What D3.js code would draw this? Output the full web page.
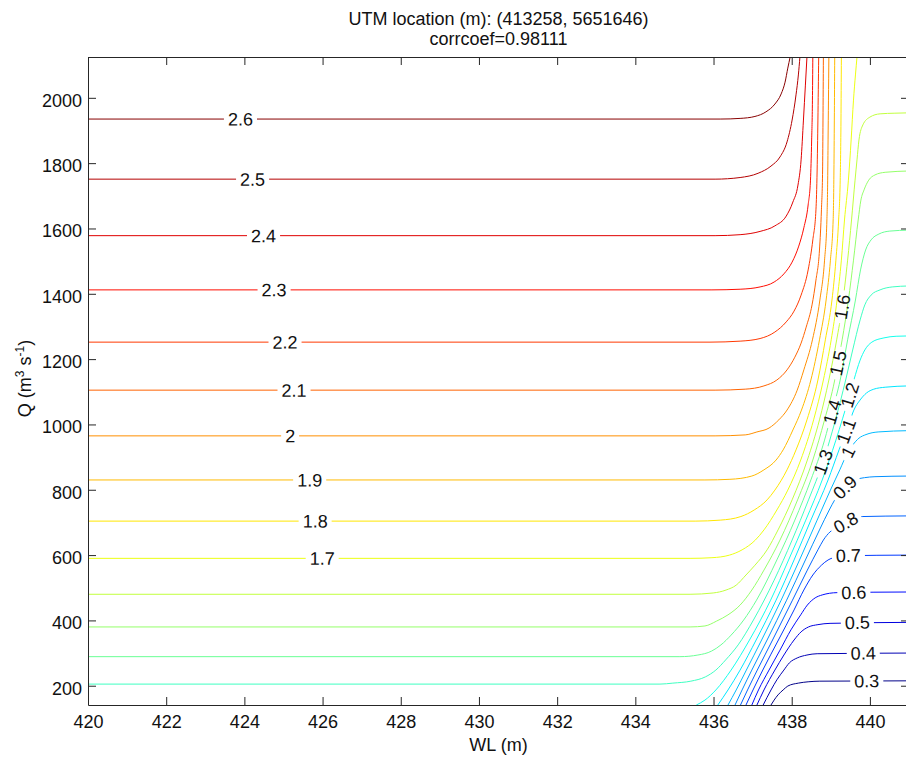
<!DOCTYPE html>
<html>
<head>
<meta charset="utf-8">
<script src="https://cdn.jsdelivr.net/npm/d3@7"></script>
<style>
  body { margin: 0; background: #fff; }
  svg { display: block; }
  text { font-family: "Liberation Sans", Arial, Helvetica, sans-serif; fill: #111; }
  .axis text { font-size: 18px; font-family: "Liberation Sans", Arial, sans-serif; }
  .axis { color: #262626; }
  .clabel { font-size: 18px; }
</style>
</head>
<body>
<svg id="chart"></svg>
<script>
// axis ranges and ticks (WL in m, Q in m3/s)
var wlRange = [420, 441];
var qRange = [141, 2125];
var xTicks = [420, 422, 424, 426, 428, 430, 432, 434, 436, 438, 440];
var yTicks = [200, 400, 600, 800, 1000, 1200, 1400, 1600, 1800, 2000];

// contour lines, one per level, as [WL, Q]
var c03 = [[437.47,141],[437.55,156],[437.65,172],[437.78,187],[437.90,199],[438.17,208],[438.42,212],[438.72,214],[441.00,215]];
var c04 = [[437.27,141],[437.47,187],[437.62,218],[437.80,248],[437.94,270],[438.14,285],[438.39,294],[438.65,298],[441.00,300]];
var c05 = [[437.11,141],[437.29,187],[437.57,248],[437.80,294],[438.06,340],[438.24,365],[438.43,380],[438.67,387],[438.98,391],[441.00,394]];
var c06 = [[436.98,141],[437.15,187],[437.42,248],[437.70,309],[437.98,371],[438.23,417],[438.40,447],[438.60,469],[438.78,478],[439.16,485],[441.00,487]];
var c07 = [[436.83,141],[437.01,187],[437.26,248],[437.66,340],[438.06,432],[438.31,493],[438.54,539],[438.76,569],[438.93,585],[439.13,594],[439.36,598],[441.00,600]];
var c08 = [[436.69,141],[436.87,187],[437.12,248],[437.51,340],[438.02,462],[438.40,554],[438.67,616],[438.81,646],[438.98,671],[439.18,686],[439.38,700],[439.59,712],[439.82,718],[441.00,720]];
var c09 = [[436.55,141],[436.73,187],[436.98,248],[437.37,340],[437.87,462],[438.35,585],[438.71,677],[438.96,738],[439.10,769],[439.28,799],[439.43,818],[439.61,830],[439.86,837],[440.13,840],[441.00,842]];
var c10 = [[436.37,141],[436.58,187],[436.84,248],[437.23,340],[437.73,462],[438.20,585],[438.65,707],[438.99,799],[439.23,861],[439.44,916],[439.56,937],[439.72,958],[439.90,969],[440.21,977],[441.00,981]];
var c11 = [[436.11,141],[436.37,187],[436.68,248],[437.09,340],[437.60,462],[438.06,585],[438.49,707],[438.93,830],[439.21,922],[439.47,1004],[439.59,1044],[439.75,1075],[439.91,1096],[440.10,1108],[440.39,1114],[441.00,1118]];
var c12 = [[435.56,141],[435.78,156],[436.06,187],[436.45,248],[436.92,340],[437.46,462],[437.92,585],[438.36,707],[438.78,830],[439.13,952],[439.48,1090],[439.59,1136],[439.75,1197],[439.87,1228],[440.05,1252],[440.36,1265],[440.67,1270],[441.00,1271]];
var c13 = [[420,205],[434.63,205],[434.96,208],[435.42,214],[435.79,227],[436.06,248],[436.31,279],[436.63,325],[437.02,401],[437.55,523],[438.01,646],[438.43,769],[438.80,885],[439.12,1014],[439.38,1136],[439.56,1228],[439.75,1320],[439.87,1366],[440.03,1396],[440.26,1412],[440.57,1421],[441.00,1424]];
var c14 = [[420,289],[435.14,289],[435.60,294],[435.95,306],[436.19,325],[436.45,355],[436.77,401],[437.10,462],[437.62,585],[438.08,707],[438.49,830],[438.84,952],[439.03,1038],[439.24,1136],[439.43,1259],[439.63,1381],[439.76,1473],[439.89,1534],[440.03,1565],[440.23,1583],[440.51,1592],[441.00,1595]];
var c15 = [[420,380],[435.40,380],[435.78,383],[436.08,398],[436.37,417],[436.68,447],[436.98,493],[437.29,554],[437.70,646],[438.15,769],[438.54,891],[438.84,1014],[439.10,1136],[439.18,1188],[439.29,1259],[439.45,1381],[439.58,1503],[439.70,1626],[439.77,1687],[439.85,1718],[439.97,1748],[440.13,1764],[440.39,1772],[441.00,1776]];
var c16 = [[420,480],[435.40,480],[435.99,484],[436.32,493],[436.58,508],[436.83,539],[437.06,569],[437.37,616],[437.65,677],[438.01,769],[438.40,891],[438.71,1014],[438.95,1136],[439.15,1259],[439.29,1360],[439.43,1503],[439.53,1626],[439.62,1748],[439.67,1810],[439.72,1871],[439.82,1917],[440.00,1941],[440.26,1951],[440.64,1953],[441.00,1954]];
var c17 = [[420,590],[435.40,590],[435.96,592],[436.41,600],[436.73,616],[437.07,646],[437.29,677],[437.62,738],[437.90,799],[438.23,891],[438.56,1014],[438.81,1136],[439.01,1259],[439.16,1381],[439.27,1503],[439.35,1626],[439.45,1748],[439.52,1871],[439.58,1993],[439.63,2070],[439.67,2125]];
var c18 = [[420,704],[435.53,704],[436.17,707],[436.70,718],[437.04,738],[437.37,769],[437.57,799],[437.88,861],[438.11,922],[438.39,1014],[438.67,1136],[438.86,1259],[439.03,1381],[439.13,1503],[439.20,1626],[439.24,1748],[439.26,1932],[439.27,2125]];
var c19 = [[420,830],[435.78,830],[436.42,832],[436.98,842],[437.29,861],[437.60,891],[437.78,922],[438.03,983],[438.25,1044],[438.49,1136],[438.71,1259],[438.88,1381],[438.99,1503],[439.06,1626],[439.08,1779],[439.09,1932],[439.10,2125]];
var c20 = [[420,965],[436.04,965],[436.81,968],[437.11,977],[437.42,989],[437.67,1014],[437.88,1044],[438.14,1105],[438.31,1167],[438.53,1259],[438.72,1381],[438.84,1503],[438.90,1626],[438.92,1748],[438.93,1871],[438.94,1993],[438.95,2125]];
var c21 = [[420,1105],[436.04,1105],[436.81,1108],[437.29,1118],[437.62,1136],[437.88,1167],[438.08,1206],[438.24,1249],[438.37,1298],[438.52,1366],[438.62,1442],[438.71,1534],[438.76,1657],[438.79,1779],[438.80,1932],[438.81,2125]];
var c22 = [[420,1252],[435.91,1252],[436.68,1255],[437.19,1263],[437.57,1283],[437.86,1314],[438.06,1347],[438.24,1396],[438.42,1473],[438.54,1565],[438.62,1657],[438.65,1779],[438.67,1932],[438.69,2125]];
var c23 = [[420,1412],[435.96,1412],[436.68,1414],[437.19,1421],[437.55,1436],[437.80,1461],[438.01,1497],[438.18,1546],[438.31,1602],[438.42,1672],[438.48,1748],[438.51,1871],[438.53,1993],[438.54,2125]];
var c24 = [[420,1578],[436.04,1578],[436.68,1581],[437.19,1591],[437.57,1608],[437.86,1638],[438.03,1681],[438.16,1733],[438.24,1810],[438.30,1932],[438.35,2039],[438.39,2125]];
var c25 = [[420,1751],[436.04,1751],[436.68,1756],[437.14,1769],[437.47,1791],[437.70,1819],[437.88,1865],[438.01,1932],[438.11,2009],[438.17,2070],[438.21,2125]];
var c26 = [[420,1935],[436.17,1935],[436.68,1937],[437.06,1943],[437.34,1957],[437.57,1981],[437.73,2012],[437.83,2048],[437.90,2091],[437.96,2125]];

// where the inline labels sit: [level, WL, Q]
var labelSpots = [
  [2.6, 423.90, 1935], [2.5, 424.21, 1751], [2.4, 424.49, 1578], [2.3, 424.76, 1412],
  [2.2, 425.04, 1252], [2.1, 425.27, 1105], [2.0, 425.17, 965], [1.9, 425.67, 830],
  [1.8, 425.81, 704], [1.7, 425.99, 590],
  [1.6, 439.29, 1360], [1.5, 439.18, 1188], [1.4, 439.03, 1038], [1.3, 438.80, 885],
  [1.2, 439.48, 1090], [1.1, 439.39, 980], [1.0, 439.44, 916], [0.9, 439.36, 808],
  [0.8, 439.38, 700], [0.7, 439.45, 599], [0.6, 439.59, 486], [0.5, 439.68, 394],
  [0.4, 439.83, 300], [0.3, 439.92, 215]
];

var contours = [
  {level: 0.3, pts: c03}, {level: 0.4, pts: c04}, {level: 0.5, pts: c05}, {level: 0.6, pts: c06},
  {level: 0.7, pts: c07}, {level: 0.8, pts: c08}, {level: 0.9, pts: c09}, {level: 1.0, pts: c10},
  {level: 1.1, pts: c11}, {level: 1.2, pts: c12}, {level: 1.3, pts: c13}, {level: 1.4, pts: c14},
  {level: 1.5, pts: c15}, {level: 1.6, pts: c16}, {level: 1.7, pts: c17}, {level: 1.8, pts: c18},
  {level: 1.9, pts: c19}, {level: 2.0, pts: c20}, {level: 2.1, pts: c21}, {level: 2.2, pts: c22},
  {level: 2.3, pts: c23}, {level: 2.4, pts: c24}, {level: 2.5, pts: c25}, {level: 2.6, pts: c26}
];

// matlab style jet colormap
function jet(v) {
  var t = (v - 0.28) / 2.34;
  function c(d) { return Math.max(0, Math.min(1, 1.5 - Math.abs(4 * t - d))); }
  return d3.rgb(255 * c(3), 255 * c(2), 255 * c(1)).toString();
}

var margin = {top: 57, left: 88},
  width = 821,
  height = 648;
var svg = d3.select('#chart')
  .attr('width', 906)
  .attr('height', 759);

var x = d3.scaleLinear().domain(wlRange).range([0, width]);
var y = d3.scaleLinear().domain(qRange).range([height, 0]);

var g = svg.append('g')
  .attr('transform', 'translate(' + margin.left + ',' + margin.top + ')');
var defs = svg.append('defs');
defs.append('clipPath').attr('id', 'plot-clip')
  .append('rect').attr('width', width).attr('height', height);

var plot = g.append('g').attr('clip-path', 'url(#plot-clip)');
var labelLayer = g.append('g');

var lineGen = d3.line()
  .x(function(d) { return x(d[0]); })
  .y(function(d) { return y(d[1]); })
  .curve(d3.curveMonotoneX);

// direction of the line around a label, in screen degrees
function labelAngle(pts, wl) {
  var i = 0;
  while (i < pts.length - 2 && pts[i + 1][0] < wl) i++;
  var a = pts[Math.max(i - 1, 0)], b = pts[Math.min(i + 2, pts.length - 1)];
  return Math.atan2(y(b[1]) - y(a[1]), x(b[0]) - x(a[0])) * 180 / Math.PI;
}

contours.forEach(function(c, i) {
  var path = plot.append('path')
    .datum(c.pts)
    .attr('d', lineGen)
    .attr('fill', 'none')
    .attr('stroke', jet(c.level))
    .attr('stroke-width', 1);

  var spot = labelSpots.filter(function(s) { return Math.abs(s[0] - c.level) < 1e-6; })[0];
  if (!spot) return;
  var lx = x(spot[1]), ly = y(spot[2]);
  var tr = 'translate(' + lx + ',' + ly + ') rotate(' + labelAngle(c.pts, spot[1]) + ')';
  var t = labelLayer.append('text')
    .attr('class', 'clabel')
    .attr('transform', tr)
    .attr('text-anchor', 'middle')
    .attr('dy', '0.36em')
    .text(String(c.level));
  var w = t.node().getComputedTextLength();

  // cut a gap in the line under its label
  var m = defs.append('mask').attr('id', 'gap' + i)
    .attr('maskUnits', 'userSpaceOnUse')
    .attr('x', -100).attr('y', -100).attr('width', width + 200).attr('height', height + 200);
  m.append('rect').attr('x', -100).attr('y', -100)
    .attr('width', width + 200).attr('height', height + 200).attr('fill', 'white');
  m.append('rect').attr('x', -w / 2 - 4).attr('y', -8)
    .attr('width', w + 8).attr('height', 16)
    .attr('transform', tr).attr('fill', 'black');
  path.attr('mask', 'url(#gap' + i + ')');
});

// box axes, ticks pointing in
var xAxis = d3.axisBottom(x).tickValues(xTicks).tickSizeInner(-8).tickSizeOuter(0).tickPadding(10);
g.append('g')
  .attr('class', 'axis axis--x')
  .attr('transform', 'translate(0,' + height + ')')
  .call(xAxis);
g.append('g')
  .attr('class', 'axis')
  .call(d3.axisTop(x).tickValues(xTicks).tickSizeInner(-8).tickSizeOuter(0).tickFormat(''));
var yAxis = d3.axisLeft(y).tickValues(yTicks).tickFormat(d3.format('d'))
  .tickSizeInner(-8).tickSizeOuter(0).tickPadding(6);
g.append('g')
  .attr('class', 'axis axis--y')
  .call(yAxis);
g.append('g')
  .attr('class', 'axis')
  .attr('transform', 'translate(' + width + ',0)')
  .call(d3.axisRight(y).tickValues(yTicks).tickSizeInner(-8).tickSizeOuter(0).tickFormat(''));
g.selectAll('.axis--y text').attr('dy', '0.46em');

// titles
svg.append('text').attr('x', 498.5).attr('y', 25).attr('text-anchor', 'middle')
  .style('font-size', '18px').text('UTM location (m): (413258, 5651646)');
svg.append('text').attr('x', 498.5).attr('y', 45).attr('text-anchor', 'middle')
  .style('font-size', '18px').text('corrcoef=0.98111');
svg.append('text').attr('x', 498.5).attr('y', 751).attr('text-anchor', 'middle')
  .style('font-size', '18px').text('WL (m)');

var yl = svg.append('text')
  .attr('transform', 'translate(31,378.5) rotate(-90)')
  .attr('text-anchor', 'middle')
  .style('font-size', '18px');
yl.append('tspan').text('Q (m');
yl.append('tspan').attr('dy', -7).style('font-size', '12px').text('3');
yl.append('tspan').attr('dy', 7).text(' s');
yl.append('tspan').attr('dy', -7).style('font-size', '12px').text('-1');
yl.append('tspan').attr('dy', 7).text(')');
</script>
</body>
</html>
